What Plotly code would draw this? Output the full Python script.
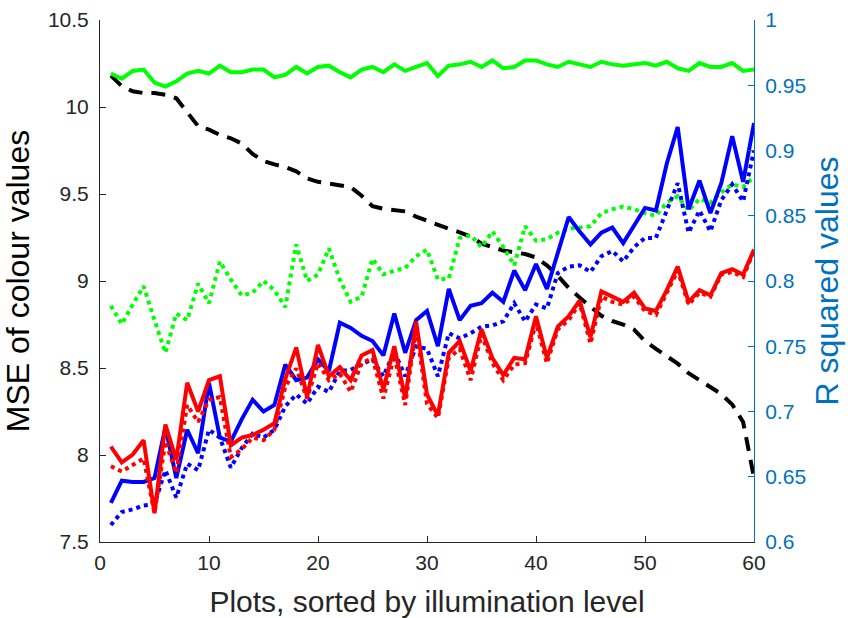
import plotly.graph_objects as go

plots = list(range(1, 61))

mse_colour = [10.18, 10.12, 10.09, 10.08, 10.08, 10.07, 10.05, 9.97, 9.89, 9.87,
              9.84, 9.82, 9.79, 9.73, 9.69, 9.67, 9.655, 9.63, 9.59, 9.57,
              9.56, 9.555, 9.54, 9.49, 9.43, 9.415, 9.41, 9.40, 9.37, 9.345,
              9.325, 9.30, 9.28, 9.255, 9.215, 9.195, 9.175, 9.165, 9.155, 9.135,
              9.09, 9.03, 8.96, 8.905, 8.85, 8.80, 8.77, 8.75, 8.72, 8.655,
              8.61, 8.57, 8.525, 8.47, 8.43, 8.39, 8.35, 8.29, 8.19, 7.87]

green_solid = [0.959, 0.955, 0.961, 0.962, 0.952, 0.949, 0.953, 0.959, 0.961, 0.959,
               0.965, 0.960, 0.960, 0.962, 0.962, 0.956, 0.958, 0.964, 0.959, 0.964,
               0.965, 0.960, 0.956, 0.962, 0.964, 0.960, 0.966, 0.961, 0.964, 0.967,
               0.957, 0.965, 0.966, 0.968, 0.964, 0.969, 0.963, 0.964, 0.969, 0.969,
               0.966, 0.964, 0.968, 0.966, 0.964, 0.968, 0.966, 0.965, 0.966, 0.967,
               0.965, 0.968, 0.963, 0.961, 0.967, 0.964, 0.964, 0.967, 0.961, 0.962]

green_dotted = [0.781, 0.767, 0.782, 0.796, 0.770, 0.745, 0.775, 0.770, 0.798, 0.783,
                0.815, 0.801, 0.789, 0.791, 0.800, 0.793, 0.780, 0.828, 0.800, 0.805,
                0.825, 0.801, 0.784, 0.788, 0.817, 0.805, 0.808, 0.810, 0.819, 0.824,
                0.801, 0.802, 0.833, 0.835, 0.826, 0.838, 0.826, 0.812, 0.842, 0.831,
                0.832, 0.837, 0.840, 0.841, 0.842, 0.852, 0.855, 0.857, 0.855, 0.852,
                0.850, 0.860, 0.865, 0.854, 0.863, 0.860, 0.868, 0.874, 0.872, 0.880]

blue_solid = [0.630, 0.647, 0.646, 0.646, 0.649, 0.688, 0.649, 0.686, 0.668, 0.722,
              0.680, 0.677, 0.694, 0.709, 0.700, 0.705, 0.736, 0.724, 0.726, 0.740,
              0.731, 0.768, 0.764, 0.758, 0.754, 0.743, 0.775, 0.745, 0.770, 0.777,
              0.750, 0.794, 0.770, 0.781, 0.783, 0.791, 0.784, 0.808, 0.793, 0.813,
              0.794, 0.822, 0.849, 0.838, 0.828, 0.837, 0.841, 0.829, 0.843, 0.856,
              0.854, 0.890, 0.918, 0.855, 0.877, 0.852, 0.875, 0.911, 0.876, 0.921]

blue_dotted = [0.613, 0.623, 0.625, 0.628, 0.629, 0.655, 0.634, 0.660, 0.655, 0.686,
               0.680, 0.657, 0.672, 0.683, 0.680, 0.686, 0.704, 0.713, 0.706, 0.719,
               0.715, 0.731, 0.732, 0.736, 0.740, 0.727, 0.746, 0.727, 0.750, 0.748,
               0.727, 0.760, 0.756, 0.760, 0.765, 0.766, 0.769, 0.783, 0.769, 0.782,
               0.779, 0.806, 0.811, 0.812, 0.807, 0.819, 0.823, 0.815, 0.826, 0.833,
               0.833, 0.854, 0.875, 0.837, 0.854, 0.838, 0.862, 0.874, 0.861, 0.900]

red_solid = [0.673, 0.661, 0.667, 0.678, 0.622, 0.690, 0.663, 0.722, 0.700, 0.724,
             0.727, 0.674, 0.680, 0.682, 0.686, 0.691, 0.725, 0.749, 0.711, 0.751,
             0.727, 0.734, 0.724, 0.743, 0.747, 0.717, 0.750, 0.710, 0.769, 0.713,
             0.697, 0.745, 0.754, 0.731, 0.763, 0.741, 0.728, 0.741, 0.740, 0.773,
             0.741, 0.765, 0.773, 0.785, 0.757, 0.792, 0.788, 0.784, 0.791, 0.779,
             0.777, 0.793, 0.811, 0.784, 0.793, 0.789, 0.806, 0.809, 0.805, 0.824]

red_dotted = [0.658, 0.654, 0.659, 0.664, 0.622, 0.677, 0.653, 0.705, 0.692, 0.709,
              0.711, 0.665, 0.671, 0.680, 0.678, 0.686, 0.719, 0.733, 0.710, 0.737,
              0.724, 0.729, 0.715, 0.737, 0.741, 0.710, 0.743, 0.705, 0.764, 0.706,
              0.695, 0.741, 0.748, 0.724, 0.759, 0.737, 0.724, 0.736, 0.737, 0.768,
              0.737, 0.763, 0.770, 0.783, 0.752, 0.788, 0.784, 0.782, 0.788, 0.777,
              0.774, 0.791, 0.808, 0.782, 0.791, 0.788, 0.805, 0.807, 0.803, 0.823]

x_ticks = [0, 10, 20, 30, 40, 50, 60]
left_ticks = [7.5, 8, 8.5, 9, 9.5, 10, 10.5]
left_labels = ["7.5", "8", "8.5", "9", "9.5", "10", "10.5"]
right_ticks = [0.6, 0.65, 0.7, 0.75, 0.8, 0.85, 0.9, 0.95, 1.0]
right_labels = ["0.6", "0.65", "0.7", "0.75", "0.8", "0.85", "0.9", "0.95", "1"]

AX = "#262626"
RB = "#0072BD"
LW = 4

fig = go.Figure()
right_series = [
    (green_solid, "#00FF00", "solid"),
    (green_dotted, "#00FF00", "dot"),
    (blue_solid, "#0000FF", "solid"),
    (blue_dotted, "#0000FF", "dot"),
    (red_solid, "#FF0000", "solid"),
    (red_dotted, "#FF0000", "dot"),
]
fig.add_trace(go.Scatter(x=plots, y=mse_colour, mode="lines", yaxis="y",
                         line=dict(color="black", width=LW, dash="14px,9px")))
for vals, col, dash in right_series:
    fig.add_trace(go.Scatter(x=plots, y=vals, mode="lines", yaxis="y2",
                             line=dict(color=col, width=LW, dash=dash)))

font_fam = "Liberation Sans, Arial, Helvetica, sans-serif"
fig.update_layout(
    width=848, height=618,
    margin=dict(l=100, r=94, t=20, b=76),
    paper_bgcolor="white", plot_bgcolor="white",
    showlegend=False,
    font=dict(family=font_fam, color=AX),
    xaxis=dict(range=[0, 60], tickvals=x_ticks, ticks="inside", ticklen=6,
               tickcolor=AX, showline=True, linecolor=AX, linewidth=1,
               showgrid=False, zeroline=False, tickfont=dict(size=21, color=AX),
               ticklabelstandoff=2, automargin=False,
               title=dict(text="Plots, sorted by illumination level",
                          font=dict(size=30, color=AX), standoff=18)),
    yaxis=dict(range=[7.5, 10.5], tickvals=left_ticks, ticktext=left_labels,
               ticks="inside", ticklen=6, tickcolor=AX, showline=True,
               linecolor=AX, linewidth=1, showgrid=False, zeroline=False,
               tickfont=dict(size=21, color=AX), ticklabelstandoff=6,
               automargin=False,
               title=dict(text="MSE of colour values",
                          font=dict(size=32, color="black"), standoff=8)),
    yaxis2=dict(range=[0.6, 1.0], tickvals=right_ticks, ticktext=right_labels,
                overlaying="y", side="right", ticks="inside", ticklen=6,
                tickcolor=RB, showline=True, linecolor=RB, linewidth=1,
                showgrid=False, zeroline=False, ticklabelstandoff=6,
                automargin=False,
                tickfont=dict(size=21, color=RB),
                title=dict(text="R squared values",
                           font=dict(size=32, color=RB), standoff=10)),
)

fig.write_html("out.html")
